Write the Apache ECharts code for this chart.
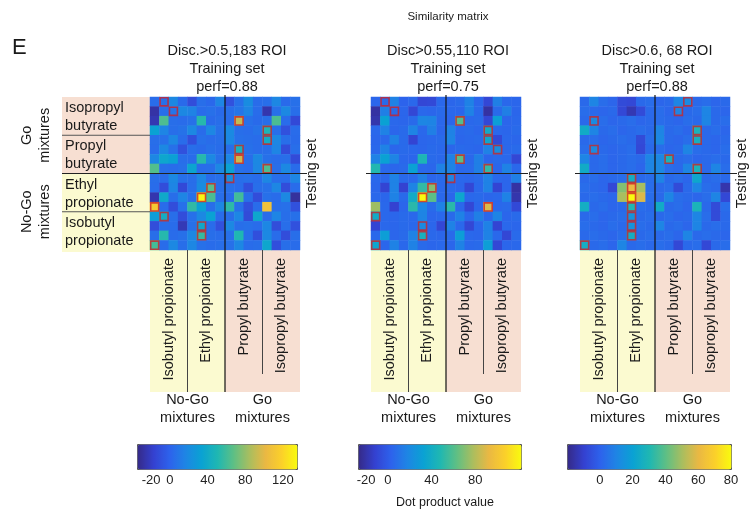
<!DOCTYPE html>
<html><head><meta charset="utf-8">
<script src="https://cdn.jsdelivr.net/npm/echarts@6/dist/echarts.min.js"></script>
<style>html,body{margin:0;padding:0;background:#fff}#c{width:755px;height:517px}</style>
</head><body><div id="c"></div>
<script>
// ---------- DATA ----------
const cellIds = ['0','1','2','3','4','5','6','7','8','9','10','11','12','13','14','15'];
const panelTitles = [
  'Disc.>0.5,183 ROI\nTraining set\nperf=0.88',
  'Disc>0.55,110 ROI\nTraining set\nperf=0.75',
  'Disc>0.6, 68 ROI\nTraining set\nperf=0.88'
];
const rowOdors = ['Isopropyl\nbutyrate', 'Propyl\nbutyrate', 'Ethyl\npropionate', 'Isobutyl\npropionate'];
const colOdors = ['Isobutyl propionate', 'Ethyl propionate', 'Propyl butyrate', 'Isopropyl butyrate'];
const rowGroups = ['Go\nmixtures', 'No-Go\nmixtures'];
const colGroups = ['No-Go\nmixtures', 'Go\nmixtures'];
const colorRange1 = [-35, 135];
const colorRange2 = [-27.5, 122];
const colorRange3 = [-20, 80];
const colorTicks1 = [-20, 0, 40, 80, 120];
const colorTicks2 = [-20, 0, 40, 80];
const colorTicks3 = [0, 20, 40, 60, 80];

const matrix1 = [
  [4, 6, 18, 3, -12, 5, 2, 16, -10, 6, 20, 4, 5, 17, 3, 6],
  [-28, 5, 8, 18, 15, 4, 6, 3, 5, 8, 16, 4, -26, 6, 18, 5],
  [-25, 63, 5, 4, 6, 52, 3, 5, 4, 90, 6, 3, 5, 62, 4, -14],
  [33, 16, 5, 7, 18, 4, 17, 6, 19, 5, 4, 7, 48, 5, -10, 4],
  [5, 6, 17, 4, -11, 6, 4, 5, 18, 6, 5, 4, 40, 17, 5, 3],
  [4, 18, 6, -10, 5, 3, 6, 4, 5, 45, 6, 4, 5, 16, -12, 5],
  [17, 36, 32, 5, 4, 52, 18, 6, 17, 92, 5, 18, 6, 4, 5, -13],
  [64, 5, 4, 6, 35, 4, 5, 18, 33, 6, 4, 17, 63, 5, 18, 4],
  [5, 4, 18, 6, 5, 17, 4, 6, 22, 5, 6, 4, 17, 5, 4, 16],
  [4, -12, 16, -14, 5, 20, 66, 5, 6, 4, -11, 5, 6, 17, -12, 4],
  [-26, 38, 5, 16, 6, 133, 62, 5, 4, 60, 5, -12, 6, 4, 18, -30],
  [112, 4, -12, 6, 55, 32, 5, 17, 54, 6, -11, 4, 108, 5, 6, -10],
  [30, 42, 5, -12, 6, 18, 33, 4, 5, 17, -13, 36, 4, 16, 5, 6],
  [-12, 5, 4, -24, 6, 38, 4, -10, 18, 5, 6, 4, 17, -12, 5, -10],
  [5, 52, 4, 6, 17, 56, 5, 4, 6, 50, 5, -11, 18, 4, -12, 5],
  [60, 4, 18, 5, 17, 6, 4, 5, 6, 17, 4, 5, 36, -11, 5, 4]
];
const matrix2 = [
  [4, 6, 16, 3, 5, -10, -9, 5, 4, 6, 16, 4, -10, 15, 5, 4],
  [-22, 15, 6, 4, -10, 5, 4, 6, 5, 4, 16, 5, -22, 6, 15, 4],
  [-20, 32, 5, 4, 6, 18, 17, 5, 4, 60, 5, 6, -10, 30, 4, 5],
  [5, 16, 4, 6, 17, 5, 15, 4, 16, 5, 6, 4, 38, 5, 4, 6],
  [4, 5, 16, 6, -11, 4, 5, 6, 17, 4, 5, 6, 35, -9, 5, 4],
  [5, 16, 4, 6, 5, 4, 6, 5, 4, 6, 5, 4, 16, 22, 5, 6],
  [16, 32, 17, 5, 4, 46, 6, 5, 16, 62, 5, 15, 4, 6, 5, -10],
  [48, 5, 4, 6, 32, 5, 4, 16, 17, 5, 6, 15, 52, 4, 16, 5],
  [5, 4, 16, 6, 5, 15, 4, 6, 18, 5, 4, 6, 16, 5, 4, 15],
  [4, -11, 16, -12, 17, 52, 70, 5, 6, 4, -10, 5, 16, -11, 4, -22],
  [5, 4, 16, 6, 38, 122, 62, 5, 4, 35, 5, 6, 4, 5, 16, -20],
  [75, 5, -12, 4, 50, 18, 6, 16, 50, 5, -10, 4, 88, 5, 6, -9],
  [38, 5, 4, 6, 5, 17, 4, 5, 6, 16, 4, 15, 5, 17, 4, 6],
  [-11, 5, 4, 6, 5, 20, 4, -10, 16, 5, -10, 4, 16, -11, 5, 4],
  [5, 30, 4, 6, 16, 42, 5, 4, 6, 30, 5, 4, 16, 5, -10, 6],
  [35, 4, 16, 5, 16, 6, 4, 5, 4, 16, 5, 6, 30, -10, 4, 5]
];
const matrix3 = [
  [2, 10, 3, 1, -7, -8, 2, 3, 1, 2, 10, 12, 2, 3, 1, 2],
  [3, 2, 1, 2, -8, -14, -7, 2, 3, 1, 10, 2, 3, 10, 2, 1],
  [2, 12, 3, 1, 2, 3, 1, 2, 3, 2, 1, 3, 2, 10, 2, 3],
  [24, 10, 2, 3, 1, 2, 3, 2, 10, 2, 3, 1, 28, 2, 3, 1],
  [2, 3, 1, 2, 3, 2, -7, 3, 11, 2, 1, 3, 26, 2, 1, 2],
  [3, 12, 2, 1, 2, 3, -8, 2, 3, 1, 2, 10, 3, 2, 1, 3],
  [10, 2, 3, 1, 2, 3, 2, 10, 11, 27, 2, 3, 1, 2, 3, 2],
  [24, 2, 3, 1, 2, 3, 1, 10, 11, 3, 2, 10, 28, 2, 10, 3],
  [2, 3, 1, 2, 3, 25, 2, 3, 10, 2, 3, 1, 22, 2, 3, 2],
  [3, 2, 1, -8, 45, 60, 50, 3, 2, 3, -7, 2, 10, 3, 2, -15],
  [2, 3, 2, 1, 50, 80, 58, 3, 2, 10, 3, 2, 1, 3, 10, -8],
  [25, 2, 3, 1, 2, 30, 3, 2, 24, 2, 3, 1, 28, 2, -7, 3],
  [2, 3, 1, 2, 3, 15, 2, 3, 2, 3, 1, 2, 10, 3, -7, 2],
  [3, 2, 1, 3, 2, 15, 3, 2, 10, 2, 3, 1, 10, 2, 3, 2],
  [2, 3, 2, 1, 3, 25, 2, 3, 2, 3, 1, 10, 2, 3, 2, 1],
  [25, 2, 3, 1, 10, 2, 3, 2, 3, 2, -8, 2, 3, -8, 2, 3]
];
// column of the red-framed cell in each row (rows 0..15)
const redBox1 = [1, 2, 9, 12, 12, 9, 9, 12, 8, 6, 5, 0, 1, 5, 5, 0];
const redBox2 = [1, 2, 9, 12, 12, 13, 9, 12, 8, 6, 5, 12, 0, 5, 5, 0];
const redBox3 = [11, 10, 1, 12, 12, 1, 9, 12, 5, 5, 5, 5, 5, 5, 5, 0];

// ---------- STYLE / LAYOUT ----------
const parula = ['#352a87','#3441d0','#2d62ec','#1e85e4','#0aa2d3','#1fb7b2','#5dbf85','#a9be5f','#eab843','#fbd02a','#f9fb0e'];
const FONT = "'Liberation Sans', Arial, sans-serif";
const TOP = 97, W = 150, H = 153;
const panels = [
  {left: 150, cb: 137, cbW: 160, m: matrix1, red: redBox1, range: colorRange1, ticks: colorTicks1},
  {left: 371, cb: 358, cbW: 163, m: matrix2, red: redBox2, range: colorRange2, ticks: colorTicks2},
  {left: 580, cb: 567, cbW: 164, m: matrix3, red: redBox3, range: colorRange3, ticks: colorTicks3}
];
const PINK = '#f7dfd2', YELLOW = '#fbfad0';
const CB_TOP = 444, CB_H = 25;

const grid = [], xAxis = [], yAxis = [], series = [], visualMap = [], graphic = [];
panels.forEach((p, i) => {
  grid.push({left: p.left, top: TOP, width: W, height: H, show: false});
  xAxis.push({type: 'category', data: cellIds, gridIndex: i, show: false});
  yAxis.push({type: 'category', data: cellIds, gridIndex: i, inverse: true, show: false});
});
panels.forEach((p, i) => {
  grid.push({left: p.cb, top: CB_TOP, width: p.cbW, height: CB_H, show: false});
  xAxis.push({type: 'value', gridIndex: 3 + i, min: p.range[0], max: p.range[1],
    axisLine: {show: false}, splitLine: {show: false},
    axisTick: {show: true, inside: true, length: 3, customValues: p.ticks, lineStyle: {color: '#444'}},
    axisLabel: {customValues: p.ticks, fontSize: 13, color: '#222', fontFamily: FONT, margin: 5}});
  yAxis.push({type: 'value', gridIndex: 3 + i, min: 0, max: 1, show: false});
});
panels.forEach((p, i) => {
  const data = [];
  p.m.forEach((row, r) => row.forEach((v, c) => data.push([c, r, v])));
  series.push({type: 'heatmap', xAxisIndex: i, yAxisIndex: i, data, silent: true, z: 2});
  visualMap.push({type: 'continuous', seriesIndex: i, min: p.range[0], max: p.range[1],
    orient: 'horizontal', left: p.cb, top: CB_TOP, itemWidth: CB_H, itemHeight: p.cbW,
    padding: 0, calculable: false, hoverLink: false, text: null,
    borderColor: '#555', borderWidth: 1, inRange: {color: parula}});
});
panels.forEach((p, i) => {
  series.push({type: 'scatter', xAxisIndex: i, yAxisIndex: i, silent: true, z: 5,
    data: p.red.map((c, r) => [c, r]), symbol: 'rect', symbolSize: [W / 16 - 1.4, H / 16 - 1.4],
    itemStyle: {color: 'rgba(0,0,0,0)', borderColor: '#cc2229', borderWidth: 1.6}});
});

function txt(x, y, text, o) {
  o = o || {};
  graphic.push({type: 'text', x, y, rotation: o.rot || 0, z: 20, silent: true,
    style: {text, fill: o.fill || '#1a1a1a', fontSize: o.size || 14.5, fontFamily: FONT,
      align: o.align || 'center', verticalAlign: o.va || 'middle', lineHeight: o.lh || 18}});
}
function rect(x, y, w, h, fill) {
  graphic.push({type: 'rect', z: -5, silent: true, shape: {x, y, width: w, height: h}, style: {fill}});
}
function line(x1, y1, x2, y2, stroke, lw) {
  graphic.push({type: 'line', z: 15, silent: true, shape: {x1, y1, x2, y2}, style: {stroke, lineWidth: lw || 1}});
}

// left labels (first panel only)
const LL = 62;
rect(LL, TOP, panels[0].left - LL, H / 2, PINK);
rect(LL, TOP + H / 2, panels[0].left - LL, H / 2 + 2, YELLOW);
rowOdors.forEach((t, k) => txt(65, TOP + H / 4 * k + H / 8 + 1, t, {align: 'left', lh: 18}));
line(LL, TOP + H / 4, panels[0].left, TOP + H / 4, '#555', 1);
line(LL, TOP + 3 * H / 4, panels[0].left, TOP + 3 * H / 4, '#555', 1);
rowGroups.forEach((t, k) => txt(36, TOP + H / 4 + k * H / 2, t, {rot: Math.PI / 2}));

const BOT = 392;
panels.forEach((p, i) => {
  const L = p.left, cx = L + W / 2;
  rect(L, TOP + H, W / 2, BOT - TOP - H, YELLOW);
  rect(cx, TOP + H, W / 2, BOT - TOP - H, PINK);
  colOdors.forEach((t, k) => txt(L + W / 8 + k * W / 4, TOP + H + 8, t, {rot: Math.PI / 2, align: 'right'}));
  line(L + W / 4, TOP + H, L + W / 4, BOT, '#444', 1);
  line(L + 3 * W / 4, TOP + H, L + 3 * W / 4, BOT - 18, '#444', 1);
  line(cx, TOP - 2, cx, BOT, '#111', 1.2);
  line(i === 0 ? LL : L - 5, TOP + H / 2, L + W + 7, TOP + H / 2, '#222', 1.1);
  colGroups.forEach((t, k) => txt(L + W / 4 + k * W / 2, BOT + 17, t));
  txt(L + W + 12, TOP + H / 2, 'Testing set', {rot: Math.PI / 2});
  txt(L + W / 2 + 2, 69, panelTitles[i], {size: 14.5, lh: 18});
});
txt(448, 17, 'Similarity matrix', {size: 11.5});
txt(12, 48, 'E', {size: 22, align: 'left'});
txt(445, 503, 'Dot product value', {size: 12.5});

const chart = echarts.init(document.getElementById('c'), null, {renderer: 'canvas'});
chart.setOption({animation: false, backgroundColor: '#fff', grid, xAxis, yAxis, visualMap, series, graphic});
</script></body></html>
